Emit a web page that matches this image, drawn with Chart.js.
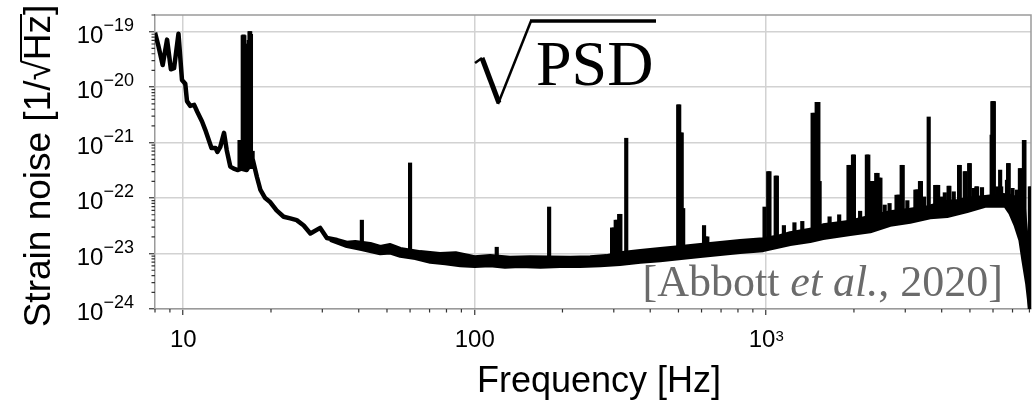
<!DOCTYPE html>
<html>
<head>
<meta charset="utf-8">
<script src="https://cdn.jsdelivr.net/npm/chart.js@4.4.1/dist/chart.umd.min.js"></script>
<style>
  html, body { margin: 0; padding: 0; background: #fff; }
  canvas { display: block; }
</style>
</head>
<body>
<canvas id="psd" width="1035" height="403"></canvas>
<script>
// upper edge of the noise curve (the single line below ~34 Hz, then the top of the band)
const topHz = [8.0, 8.2, 8.5, 8.8, 9.07, 9.3, 9.63, 9.9, 10.16, 10.3, 10.57, 10.9, 11.17, 11.6, 11.9,
  12.5, 12.9, 13.1, 13.4, 13.8, 14.1, 14.5, 14.9, 15.4, 15.8, 16.5, 17.34, 17.9, 18.4, 19.1, 19.9,
  20.9, 22.1, 23.3, 24.5, 25.9, 27.3, 29.5, 31.1, 33.7, 36.4, 38.9, 43.8, 47.4, 51.3, 55.5, 65, 76,
  86, 100, 113, 132, 155, 213, 249, 283, 321, 370, 433, 511, 594, 695, 814, 976, 1100, 1209, 1416,
  1569, 1725, 1942, 2135, 2664, 3119, 3581, 4177, 4557, 4892, 5640, 6501, 6845, 7150, 7464, 7643,
  7767, 7891, 8005, 8110];
const topStrain = [9.6e-20, 5.8e-20, 2.5e-20, 7.2e-20, 2.1e-20, 2.2e-20, 9.2e-20, 1.35e-20, 1.15e-20,
  5.6e-21, 4.6e-21, 4.8e-21, 3.6e-21, 2.4e-21, 1.7e-21, 8.0e-22, 8.0e-22, 6.8e-22, 8.4e-22, 1.5e-21,
  7.3e-22, 3.7e-22, 3.4e-22, 3.2e-22, 3.4e-22, 3.2e-22, 4.8e-22, 2.4e-22, 1.4e-22, 1.0e-22, 8.4e-23,
  6.0e-23, 4.6e-23, 4.3e-23, 4.0e-23, 3.2e-23, 2.3e-23, 2.9e-23, 1.9e-23, 1.75e-23, 1.55e-23, 1.6e-23,
  1.47e-23, 1.3e-23, 1.41e-23, 1.2e-23, 1.05e-23, 9.7e-24, 1.0e-23, 8.5e-24, 8.9e-24, 8.3e-24,
  8.5e-24, 8.3e-24, 8.5e-24, 8.9e-24, 1.01e-23, 1.1e-23, 1.2e-23, 1.3e-23, 1.41e-23, 1.53e-23,
  1.66e-23, 1.8e-23, 2.0e-23, 2.3e-23, 2.65e-23, 3.2e-23, 3.4e-23, 3.7e-23, 4.2e-23, 5.5e-23, 6.1e-23,
  6.8e-23, 8.5e-23, 8.8e-23, 9.6e-23, 1.04e-22, 1.13e-22, 1.09e-22, 1.01e-22, 8.5e-23, 6.8e-23,
  2.6e-23, 1.14e-23, 2.2e-24, 4e-25];

// lower edge of the noise band
const botHz = [31.9, 36.4, 40.5, 43.8, 47.4, 51.3, 55.5, 62.5, 70.4, 79.2, 89.2, 100, 113, 127, 143,
  168, 196, 230, 270, 315, 370, 433, 511, 594, 695, 814, 976, 1209, 1416, 1569, 1942, 2275, 2664,
  3119, 3652, 4177, 4892, 5640, 6605, 6871, 7150, 7434, 7613, 7839, 8005, 8110];
const botStrain = [1.75e-23, 1.35e-23, 1.2e-23, 1.1e-23, 1.0e-23, 1.03e-23, 9.0e-24, 8.2e-24, 7.0e-24,
  6.6e-24, 6.1e-24, 5.9e-24, 6.1e-24, 5.7e-24, 5.9e-24, 5.7e-24, 5.9e-24, 5.9e-24, 6.1e-24, 6.4e-24,
  7.0e-24, 7.5e-24, 8.2e-24, 8.9e-24, 9.7e-24, 1.05e-23, 1.14e-23, 1.47e-23, 1.66e-23, 1.88e-23,
  2.23e-23, 2.5e-23, 3.26e-23, 3.7e-23, 4.45e-23, 4.7e-23, 5.8e-23, 7.2e-23, 7.2e-23, 5.3e-23, 3.26e-23,
  1.73e-23, 7.5e-24, 2.9e-24, 1.1e-24, 3e-25];

// narrow spectral lines: frequency, peak and the band level they rise from
const lineHz = [15.6, 16.0, 16.1, 16.2, 16.3, 16.45, 16.67, 16.77, 16.88, 16.97, 17.07, 17.3,
  41, 60, 119, 180,
  296, 300, 304.6, 308, 313, 316, 331,
  499, 503, 508, 513, 519, 612, 620, 628,
  987, 1016, 1026, 1078, 1088, 1150, 1250, 1330,
  1443, 1465, 1490, 1510, 1525, 1650, 1780,
  1916, 1940, 1960, 1985, 2000, 2100,
  2215, 2240, 2270, 2300, 2330, 2360, 2385, 2410, 2440, 2465, 2550, 2650,
  2800, 2830, 2860, 2890, 2916, 2940, 3050,
  3250, 3280, 3310, 3340, 3370, 3395, 3480, 3610,
  3800, 3830, 3860, 3890, 4000, 4100, 4225, 4250, 4400,
  4590, 4615, 4800, 4830, 4970, 4995, 5150, 5260, 5290, 5500,
  5937, 5970, 6000, 6040, 6200, 6348, 6400, 6700, 6730, 6760, 6790, 7000, 7250,
  7420, 7450, 7660, 7690, 8030, 8070];
const linePeak = [1.1e-21, 8.5e-20, 8.8e-20, 8.5e-20, 6e-20, 2.5e-20, 4e-20, 7e-20, 1.0e-19, 1.0e-19, 9e-20, 7e-22,
  4.0e-23, 4.3e-22, 1.3e-23, 6.9e-23,
  2.9e-23, 2.9e-23, 4.0e-23, 4.0e-23, 5.1e-23, 5.1e-23, 1.2e-21,
  4.8e-21, 4.8e-21, 1.5e-21, 1.5e-21, 6.5e-23, 3.2e-23, 2.0e-23, 2.0e-23,
  6.9e-23, 3.0e-22, 3.0e-22, 2.5e-22, 2.5e-22, 3.2e-23, 3.6e-23, 3.8e-23,
  3.4e-21, 3.4e-21, 5.3e-21, 5.3e-21, 2.0e-22, 4.6e-23, 5.0e-23,
  3.9e-22, 3.9e-22, 1.0e-22, 6.0e-22, 6.0e-22, 5.8e-23,
  6.0e-22, 6.0e-22, 2.0e-22, 2.0e-22, 2.0e-22, 2.0e-22, 2.8e-22, 2.8e-22, 2.3e-22, 2.3e-22, 7.5e-23, 8.0e-23,
  1.13e-22, 1.13e-22, 1.13e-22, 1.13e-22, 3.9e-22, 3.9e-22, 9.0e-23,
  1.4e-22, 1.4e-22, 1.4e-22, 1.4e-22, 2.0e-22, 2.0e-22, 1.05e-22, 2.9e-21,
  1.7e-22, 1.7e-22, 1.7e-22, 1.7e-22, 1.05e-22, 1.25e-22, 1.64e-22, 1.64e-22, 1.3e-22,
  3.9e-22, 3.9e-22, 3.0e-22, 3.0e-22, 4.2e-22, 4.2e-22, 1.5e-22, 1.6e-22, 1.6e-22, 1.55e-22,
  1.37e-21, 5.5e-21, 5.5e-21, 5.5e-21, 1.6e-22, 3.2e-22, 1.6e-22, 2.1e-22, 2.1e-22, 4.2e-22, 4.2e-22, 1.5e-22, 1.4e-22,
  3.4e-22, 3.4e-22, 1.1e-21, 1.1e-21, 1.6e-22, 1.6e-22];
const lineBase = [3.4e-22, 3.4e-22, 3.4e-22, 3.4e-22, 3.4e-22, 3.4e-22, 3.4e-22, 3.4e-22, 3.4e-22, 3.4e-22, 3.4e-22, 3.4e-22,
  1.2e-23, 1.0e-23, 7.5e-24, 7.5e-24,
  7.8e-24, 7.8e-24, 7.8e-24, 7.8e-24, 7.8e-24, 7.8e-24, 8e-24,
  1.0e-23, 1.0e-23, 1.0e-23, 1.0e-23, 1.0e-23, 1.1e-23, 1.1e-23, 1.1e-23,
  1.5e-23, 1.5e-23, 1.5e-23, 1.5e-23, 1.5e-23, 1.6e-23, 1.8e-23, 2.0e-23,
  2.2e-23, 2.2e-23, 2.2e-23, 2.2e-23, 2.2e-23, 2.4e-23, 2.6e-23,
  2.9e-23, 2.9e-23, 2.9e-23, 2.9e-23, 2.9e-23, 3.0e-23,
  3.3e-23, 3.3e-23, 3.3e-23, 3.3e-23, 3.3e-23, 3.3e-23, 3.3e-23, 3.3e-23, 3.3e-23, 3.3e-23, 3.8e-23, 4.0e-23,
  4.2e-23, 4.2e-23, 4.2e-23, 4.2e-23, 4.2e-23, 4.2e-23, 4.5e-23,
  5e-23, 5e-23, 5e-23, 5e-23, 5e-23, 5e-23, 5e-23, 5.5e-23,
  5.8e-23, 5.8e-23, 5.8e-23, 5.8e-23, 6e-23, 6e-23, 6.2e-23, 6.2e-23, 6.3e-23,
  7e-23, 7e-23, 7e-23, 7e-23, 7e-23, 7e-23, 7e-23, 7.5e-23, 7.5e-23, 7.5e-23,
  8e-23, 8e-23, 8e-23, 8e-23, 8e-23, 8.5e-23, 8e-23, 8.5e-23, 8.5e-23, 8.5e-23, 8.5e-23, 7e-23, 5.5e-23,
  6e-23, 6e-23, 4e-23, 4e-23, 5e-25, 5e-25];

// axis ticks
const xTickValues = [10, 100, 1000];
const xTickLabels = [["10", ""], ["100", ""], ["10", "3"]];
const yTickValues = [1e-24, 1e-23, 1e-22, 1e-21, 1e-20, 1e-19];
const yTickLabels = [["10", "\u221224"], ["10", "\u221223"], ["10", "\u221222"],
  ["10", "\u221221"], ["10", "\u221220"], ["10", "\u221219"]];

const SANS = '"Liberation Sans", Arial, Helvetica, sans-serif';
const SERIF = '"Liberation Serif", "Times New Roman", serif';

const toPoints = (xs, ys) => xs.map((x, i) => ({ x: x, y: ys[i] }));

// each spectral line is a thin floating bar from the band up to its peak
const lineBars = lineHz.map((f, i) => ({ x: f, y: [lineBase[i], linePeak[i]] }));

const decor = {
  id: "decor",
  beforeDatasetsDraw(chart) {
    const { ctx, chartArea: a } = chart;
    ctx.save();
    ctx.strokeStyle = "#9a9a9a";
    ctx.lineWidth = 1.5;
    ctx.beginPath();
    ctx.moveTo(a.left, a.top);
    ctx.lineTo(a.right, a.top);
    ctx.lineTo(a.right, a.bottom);
    ctx.stroke();
    ctx.restore();
  },
  afterDraw(chart) {
    const { ctx, chartArea: a, scales } = chart;
    const x = scales.x, y = scales.y;
    ctx.save();

    // minor ticks
    ctx.strokeStyle = "#333";
    ctx.lineWidth = 1.2;
    ctx.beginPath();
    for (let e = -24; e <= -19; e++) {
      for (let k = 2; k <= 9; k++) {
        const v = k * Math.pow(10, e);
        if (v > y.max * 1.001) break;
        const py = y.getPixelForValue(v);
        ctx.moveTo(a.left, py);
        ctx.lineTo(a.left - 3.5, py);
      }
    }
    for (let e = 0; e <= 3; e++) {
      for (let k = 2; k <= 9; k++) {
        const v = k * Math.pow(10, e);
        if (v < x.min || v > x.max * 1.001) continue;
        const px = x.getPixelForValue(v);
        ctx.moveTo(px, a.bottom);
        ctx.lineTo(px, a.bottom + 3.5);
      }
    }
    ctx.stroke();

    // tick labels with raised exponents
    ctx.fillStyle = "#000";
    ctx.textBaseline = "alphabetic";
    ctx.textAlign = "left";
    yTickValues.forEach((v, i) => {
      const py = y.getPixelForValue(v);
      const [base, sup] = yTickLabels[i];
      ctx.font = "24px " + SANS;
      const wb = ctx.measureText(base).width;
      ctx.font = "18px " + SANS;
      const ws = ctx.measureText(sup).width;
      const x0 = 134 - wb - ws;
      ctx.font = "24px " + SANS;
      ctx.fillText(base, x0, py + 11);
      ctx.font = "18px " + SANS;
      ctx.fillText(sup, x0 + wb, py - 1);
    });
    xTickValues.forEach((v, i) => {
      const px = x.getPixelForValue(v);
      const [base, sup] = xTickLabels[i];
      ctx.font = "24px " + SANS;
      const wb = ctx.measureText(base).width;
      ctx.font = "15px " + SANS;
      const ws = sup ? ctx.measureText(sup).width : 0;
      const x0 = px - (wb + ws) / 2;
      ctx.font = "24px " + SANS;
      ctx.fillText(base, x0, 347);
      if (sup) {
        ctx.font = "15px " + SANS;
        ctx.fillText(sup, x0 + wb, 341);
      }
    });

    // x axis title
    ctx.font = "36px " + SANS;
    ctx.textAlign = "center";
    ctx.fillText("Frequency [Hz]", 599, 392);

    // y axis title, with a bar over Hz
    ctx.save();
    ctx.translate(50, 166);
    ctx.rotate(-Math.PI / 2);
    ctx.font = "37px " + SANS;
    ctx.textAlign = "left";
    const parts = ["Strain noise [1/", "\u221a", "Hz", "]"];
    const widths = parts.map(p => ctx.measureText(p).width);
    const total = widths.reduce((s, w) => s + w, 0);
    let cx = -total / 2;
    const starts = [];
    parts.forEach((p, i) => {
      starts.push(cx);
      ctx.fillText(p, cx, 0);
      cx += widths[i];
    });
    const rootTop = ctx.measureText("\u221a").actualBoundingBoxAscent;
    ctx.lineWidth = 2;
    ctx.strokeStyle = "#000";
    ctx.beginPath();
    ctx.moveTo(starts[1] + widths[1] - 1.5, -rootTop + 1);
    ctx.lineTo(starts[3] + 1, -rootTop + 1);
    ctx.stroke();
    ctx.restore();

    // sqrt(PSD) label
    ctx.textAlign = "left";
    ctx.font = "64px " + SERIF;
    ctx.fillStyle = "#000";
    ctx.fillText("PSD", 536, 85);
    ctx.strokeStyle = "#000";
    ctx.lineCap = "butt";
    ctx.lineJoin = "miter";
    ctx.lineWidth = 2.5;
    ctx.beginPath();
    ctx.moveTo(475, 63);
    ctx.lineTo(482, 58);
    ctx.stroke();
    ctx.lineWidth = 5;
    ctx.beginPath();
    ctx.moveTo(482, 58);
    ctx.lineTo(499, 103);
    ctx.stroke();
    ctx.lineWidth = 2.5;
    ctx.beginPath();
    ctx.moveTo(498, 104);
    ctx.lineTo(531, 21);
    ctx.stroke();
    ctx.lineWidth = 3.5;
    ctx.beginPath();
    ctx.moveTo(530, 21);
    ctx.lineTo(656, 21);
    ctx.stroke();

    // citation
    ctx.fillStyle = "#6b6b6b";
    const cite = [["[Abbott ", "normal"], ["et al.", "italic"], [", 2020]", "normal"]];
    const cw = cite.map(([t, s]) => { ctx.font = s + " 44px " + SERIF; return ctx.measureText(t).width; });
    let tx = 1003 - cw.reduce((s, w) => s + w, 0);
    cite.forEach(([t, s], i) => {
      ctx.font = s + " 44px " + SERIF;
      ctx.fillText(t, tx, 296);
      tx += cw[i];
    });

    ctx.restore();
  }
};

const lineStyle = {
  borderColor: "#000",
  borderWidth: 3.5,
  pointRadius: 0,
  borderJoinStyle: "round",
  tension: 0
};

new Chart(document.getElementById("psd"), {
  type: "line",
  data: {
    datasets: [
      Object.assign({ data: toPoints(topHz, topStrain), fill: false }, lineStyle, { borderWidth: 4.5 }),
      Object.assign({ data: toPoints(botHz, botStrain), fill: "-1", backgroundColor: "#000" }, lineStyle),
      {
        type: "bar",
        data: lineBars,
        backgroundColor: "#000",
        borderWidth: 0,
        barThickness: 3.5,
        grouped: false
      }
    ]
  },
  options: {
    responsive: false,
    animation: false,
    events: [],
    layout: { padding: { top: 15, right: 4, left: 0, bottom: 0 } },
    plugins: { legend: { display: false }, tooltip: { enabled: false } },
    scales: {
      x: {
        type: "logarithmic",
        min: 8,
        max: 8100,
        offset: false,
        afterFit(s) { s.height = 94; },
        afterBuildTicks(s) { s.ticks = xTickValues.map(v => ({ value: v })); },
        ticks: { display: false },
        grid: { offset: false, color: "#d2d2d2", lineWidth: 1.5, drawTicks: true, tickLength: 6, tickColor: "#333", tickWidth: 1.2 },
        border: { color: "#9a9a9a", width: 1.5 }
      },
      y: {
        type: "logarithmic",
        min: 1e-24,
        max: 2e-19,
        beginAtZero: false,
        afterFit(s) { s.width = 155; },
        afterBuildTicks(s) { s.ticks = yTickValues.map(v => ({ value: v })); },
        ticks: { display: false },
        grid: { color: "#d2d2d2", lineWidth: 1.5, drawTicks: true, tickLength: 6, tickColor: "#333", tickWidth: 1.2 },
        border: { color: "#9a9a9a", width: 1.5 }
      }
    }
  },
  plugins: [decor]
});
</script>
</body>
</html>
